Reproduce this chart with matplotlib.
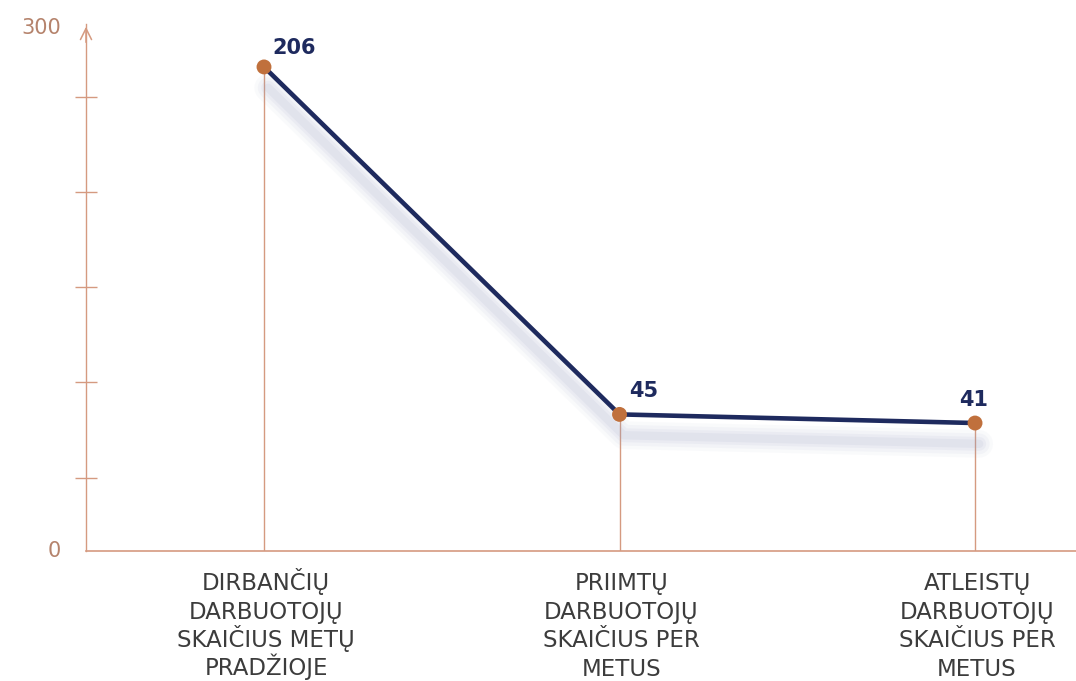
import matplotlib
matplotlib.use("Agg")
import matplotlib.pyplot as plt
import matplotlib.patheffects as pe

# ---- data ----
categories = [
    "DIRBANČIŲ\nDARBUOTOJŲ\nSKAIČIUS METŲ\nPRADŽIOJE",
    "PRIIMTŲ\nDARBUOTOJŲ\nSKAIČIUS PER\nMETUS",
    "ATLEISTŲ\nDARBUOTOJŲ\nSKAIČIUS PER\nMETUS",
]
values = [206, 45, 41]
value_labels = ["206", "45", "41"]
axis_end_labels = ["0", "300"]

# ---- style ----
NAVY = "#1e2a5e"
ORANGE = "#c0703c"
AXIS = "#d59a80"
TICKTXT = "#b5836c"
CATTXT = "#3c3c3c"
PX = 0.72  # points per pixel at dpi 100

fig = plt.figure(figsize=(10.76, 6.81), dpi=100)
ax = fig.add_axes([86 / 1076, 1 - 551 / 681, 1 - 86 / 1076, (551 - 24) / 681])

x = list(range(len(values)))
ymin, ymax = -18.3, 225.9
ax.set_xlim(-0.5007, 2.284)
ax.set_ylim(ymin, ymax)

# drop lines
for xi, v in zip(x, values):
    ax.plot([xi, xi], [ymin, v], color=AXIS, lw=1.0, zorder=1)

# main line with soft shadow
shadow = []
for w, a in [(20, 0.05), (15, 0.07), (10, 0.09), (6, 0.11)]:
    shadow.append(pe.SimpleLineShadow(offset=(3, -15), shadow_color="#9aa3c4", alpha=a, linewidth=w))
shadow.append(pe.Normal())
ax.plot(x, values, color=NAVY, lw=3.3, zorder=3, path_effects=shadow, solid_capstyle="round")
ax.scatter(x, values, s=115, color=ORANGE, zorder=4, edgecolors="none")

# value labels
offsets = [(6, 6.5), (7, 9.4), (-1, 9.4)]
has = ["left", "left", "center"]
for xi, v, lab, off, ha in zip(x, values, value_labels, offsets, has):
    ax.annotate(lab, (xi, v), xytext=off, textcoords="offset points", ha=ha, va="bottom",
                fontsize=15, fontweight="bold", color=NAVY)

# spines
for s in ["top", "right"]:
    ax.spines[s].set_visible(False)
ax.spines["left"].set_color(AXIS)
ax.spines["bottom"].set_color(AXIS)
ax.spines["left"].set_linewidth(1.0)
ax.spines["bottom"].set_linewidth(1.2)

# arrow head at top of y axis
ax.annotate("", xy=(0, 1.0), xycoords="axes fraction", xytext=(0, 0.96),
            arrowprops=dict(arrowstyle="->", color=AXIS, lw=1.1, mutation_scale=20))

# y tick marks (no labels) and end labels
ax.set_yticks([192.1, 148.0, 104.0, 60.0, 15.5])
ax.set_yticklabels([])
ax.tick_params(axis="y", direction="inout", length=16, width=1.0, color=AXIS)
ax.text(-0.025, 0.0, axis_end_labels[0], transform=ax.transAxes, ha="right", va="center",
        fontsize=15, color=TICKTXT)
ax.text(-0.025, 0.993, axis_end_labels[1], transform=ax.transAxes, ha="right", va="center",
        fontsize=15, color=TICKTXT)

# x category labels, one line at a time for even spacing
ax.set_xticks(x)
ax.set_xticklabels([])
ax.tick_params(axis="x", length=0)
for xi, cat in zip(x, categories):
    for j, line in enumerate(cat.split("\n")):
        ax.annotate(line, xy=(xi, 0), xycoords=("data", "axes fraction"),
                    xytext=(2 * PX, -(39 + 28.5 * j) * PX), textcoords="offset points",
                    ha="center", va="baseline", fontsize=16.5, color=CATTXT,
                    annotation_clip=False)

fig.savefig("out.png", dpi=100, facecolor="white")
